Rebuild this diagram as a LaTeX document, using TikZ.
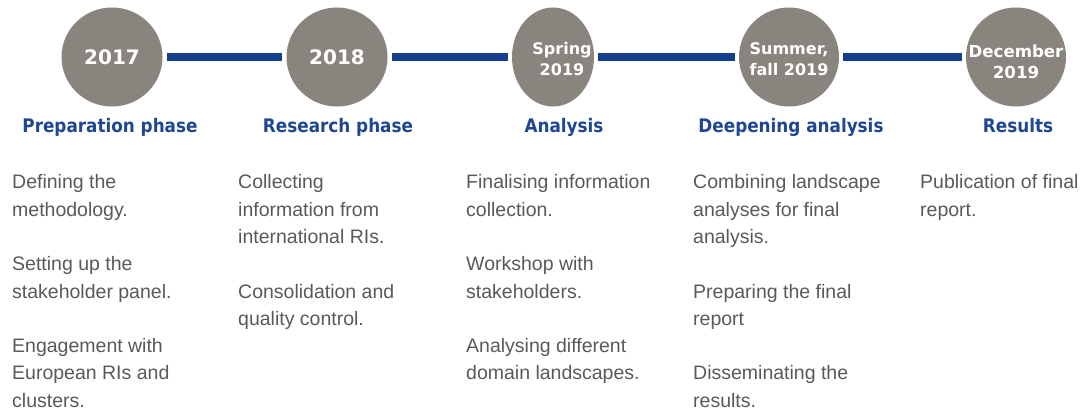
\documentclass[tikz,border=0pt]{standalone}
\usepackage{fontspec}
\setmainfont{Liberation Sans}
\newfontfamily\yearfont{DejaVu Sans}
\newfontfamily\phasefont{DejaVu Sans Condensed}
\usepackage{tikz}
\usetikzlibrary{shapes.geometric}

\definecolor{stonegray}{RGB}{138,132,127}
\definecolor{phaseblue}{RGB}{31,71,145}
\definecolor{lineblue}{RGB}{20,63,140}
\definecolor{taskgray}{RGB}{89,89,89}

\tikzset{
  stage/.style={ellipse,fill=stonegray,inner sep=0pt},
  when/.style={text=white,align=center,inner sep=0pt,
    font=\yearfont\bfseries\fontsize{16}{21}\selectfont},
  bigwhen/.style={when,font=\yearfont\bfseries\fontsize{20}{24}\selectfont},
  phase/.style={anchor=base,text=phaseblue,inner sep=0pt,
    font=\phasefont\bfseries\fontsize{18.7}{22}\selectfont},
  task/.style={anchor=north west,inner sep=0pt,text=taskgray,align=left,
    font=\fontsize{19.5}{27.3}\selectfont},
  link/.style={lineblue,line width=8pt,shorten <=4pt,shorten >=4pt}
}

\begin{document}
\begin{tikzpicture}[x=1pt,y=-1pt]
\useasboundingbox (0,0) rectangle (1086,412);

    % milestones
    \node[stage,minimum width=101pt,minimum height=99pt,label={[bigwhen]center:2017}] (s2017) at (112,57) {};
    \node[stage,minimum width=101pt,minimum height=99pt,label={[bigwhen]center:2018}] (s2018) at (337,57) {};
    \node[stage,minimum width=82pt,minimum height=99pt,label={[when,xshift=9pt,yshift=-2pt]center:{Spring\\2019}}] (spring) at (553,57) {};
    \node[stage,minimum width=100pt,minimum height=99pt,label={[when,yshift=-2pt]center:{Summer,\\fall 2019}}] (summer) at (789,57) {};
    \node[stage,minimum width=100pt,minimum height=99pt,label={[when,yshift=-5pt,font=\yearfont\bfseries\fontsize{16.6}{21}\selectfont]center:{December\\2019}}] (december) at (1016,57) {};

    \draw[link] (s2017) -- (s2018);
    \draw[link] (s2018) -- (spring);
    \draw[link] (spring) -- (summer);
    \draw[link] (summer) -- (december);

    % phase names
    \node[phase] (prep) at (110,132) {Preparation phase};
    \node[phase] (research) at (338,132) {Research phase};
    \node[phase] (analysis) at (564,132) {Analysis};
    \node[phase] (deepening) at (791,132) {Deepening analysis};
    \node[phase] (results) at (1018,132) {Results};

    % what happens in each phase
    \node[task] (prep-tasks) at (12,174.5) {Defining the\\methodology.\\[27.3pt]Setting up the\\stakeholder panel.\\[27.3pt]Engagement with\\European RIs and\\clusters.};
    \node[task] (research-tasks) at (238,174.5) {Collecting\\information from\\international RIs.\\[27.3pt]Consolidation and\\quality control.};
    \node[task] (analysis-tasks) at (466,174.5) {Finalising information\\collection.\\[27.3pt]Workshop with\\stakeholders.\\[27.3pt]Analysing different\\domain landscapes.};
    \node[task] (deepening-tasks) at (693,174.5) {Combining landscape\\analyses for final\\analysis.\\[27.3pt]Preparing the final\\report\\[27.3pt]Disseminating the\\results.};
    \node[task] (results-tasks) at (920,174.5) {Publication of final\\report.};

\end{tikzpicture}
\end{document}
